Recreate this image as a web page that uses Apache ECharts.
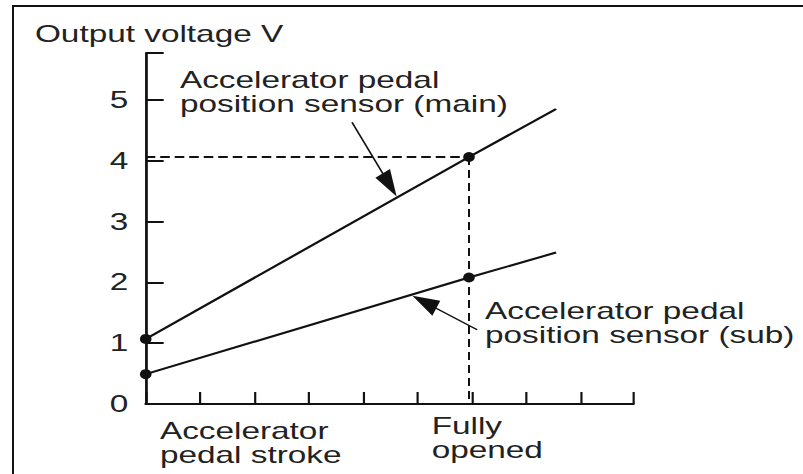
<!DOCTYPE html>
<html>
<head>
<meta charset="utf-8">
<script src="https://cdn.jsdelivr.net/npm/echarts@6/dist/echarts.min.js"></script>
<style>
  html, body { margin: 0; padding: 0; background: #fff; overflow: hidden; }
  /* thin frame along the top and left edge of the figure */
  #frame {
    position: absolute; left: 12px; top: 5px; width: 800px; height: 480px;
    border-top: 2px solid #111; border-left: 2px solid #111;
    box-sizing: border-box; pointer-events: none; z-index: 2;
  }
  /* the figure is set in a wide, horizontally extended type */
  #chart {
    position: absolute; left: 0; top: 0;
    width: 553.8px; height: 474px;
    transform: scaleX(1.45); transform-origin: 0 0;
  }
</style>
</head>
<body>
<div id="chart"></div>
<div id="frame"></div>
<script>
// Pedal stroke positions (arbitrary stroke units): rest, fully opened, end of travel
const strokeX = [0, 5.94, 7.54];
// Output voltage of the two sensors at those stroke positions (V)
const mainVolts = [1.07, 4.06, 4.85];
const subVolts = [0.49, 2.08, 2.49];
// Which of those points carry a dot
const dotted = [true, true, false];
// Voltage tick labels
const voltTicks = [0, 1, 2, 3, 4, 5];

// Leader arrows from the captions to the lines: tail x, tail y, tip x, tip y (stroke / V)
const mainArrow = [3.79, 4.63, 4.61, 3.41];
const subArrow = [6.09, 1.22, 4.90, 1.78];

const STRETCH = 1.45;   // horizontal stretch applied to the chart box
const INK = '#111';
const TEXT = '#222';
const FONT = "'Liberation Sans', Arial, Helvetica, sans-serif";
const FS = 23;

function pts(ys) {
  return strokeX.map((x, i) => ({
    value: [x, ys[i]],
    symbol: dotted[i] ? 'circle' : 'none'
  }));
}

// Leader line with a filled triangular head; the head is shaped in the
// stretched space so that it keeps its proportions on screen.
function renderArrow(params, api) {
  const p0 = api.coord([api.value(0), api.value(1)]);
  const p1 = api.coord([api.value(2), api.value(3)]);
  const ax = p0[0] * STRETCH, ay = p0[1];
  const bx = p1[0] * STRETCH, by = p1[1];
  const dx = bx - ax, dy = by - ay;
  const len = Math.hypot(dx, dy);
  const ux = dx / len, uy = dy / len;
  const L = 27, W = 8.5;
  const cx = bx - ux * L, cy = by - uy * L;
  const head = [
    [bx, by],
    [cx - uy * W, cy + ux * W],
    [cx + uy * W, cy - ux * W]
  ].map(p => [p[0] / STRETCH, p[1]]);
  return {
    type: 'group',
    children: [
      { type: 'line', shape: { x1: p0[0], y1: p0[1], x2: (cx + ux * 4) / STRETCH, y2: cy + uy * 4 },
        style: { stroke: INK, lineWidth: 1.2 } },
      { type: 'polygon', shape: { points: head }, style: { fill: INK } }
    ]
  };
}

function caption(text, x, y, lineHeight) {
  return {
    type: 'text', x: x, y: y,
    style: { text: text, font: FS + 'px ' + FONT, fill: TEXT, align: 'left', verticalAlign: 'top', lineHeight: lineHeight }
  };
}

const chart = echarts.init(document.getElementById('chart'), null, { renderer: 'svg' });

const option = {
  animation: false,
  backgroundColor: '#fff',
  grid: { left: 100.5, right: 117.2, top: 53, bottom: 70, containLabel: false },
  xAxis: {
    type: 'value',
    min: 0, max: 8.96, interval: 1,
    axisLine: { show: true, lineStyle: { color: INK, width: 2 } },
    axisTick: { show: true, inside: true, length: 12, lineStyle: { color: INK, width: 1.5 } },
    axisLabel: { show: false },
    splitLine: { show: false }
  },
  yAxis: {
    type: 'value',
    min: 0, max: 5.77, interval: 1,
    axisLine: { show: true, lineStyle: { color: INK, width: 1.9 } },
    axisTick: { show: true, inside: true, length: 12.4, lineStyle: { color: INK, width: 2 } },
    axisLabel: {
      show: true, margin: 12, color: TEXT, fontFamily: FONT, fontSize: FS,
      formatter: v => (voltTicks.indexOf(v) >= 0 ? String(v) : '')
    },
    splitLine: { show: false }
  },
  graphic: [
    caption('Output voltage V', 24.1, 22.4, 24),
    caption('Accelerator pedal\nposition sensor (main)', 124.1, 68, 24),
    caption('Accelerator pedal\nposition sensor (sub)', 334.5, 299.4, 24),
    caption('Accelerator\npedal stroke', 110.3, 418.9, 24),
    caption('Fully\nopened', 297.7, 413.6, 24)
  ],
  series: [
    {
      name: 'fully opened level',
      type: 'line',
      data: [[0, mainVolts[1]], [strokeX[1], mainVolts[1]]],
      symbol: 'none',
      lineStyle: { color: INK, width: 1.9, type: [6.6, 3.4] },
      z: 1, silent: true
    },
    {
      name: 'fully opened stroke',
      type: 'line',
      data: [[strokeX[1], mainVolts[1]], [strokeX[1], 0]],
      symbol: 'none',
      lineStyle: { color: INK, width: 1.4, type: [8, 5] },
      z: 1, silent: true
    },
    {
      name: 'Accelerator pedal position sensor (main)',
      type: 'line',
      data: pts(mainVolts),
      symbolSize: [8, 10],
      itemStyle: { color: INK },
      lineStyle: { color: INK, width: 2 },
      z: 3
    },
    {
      name: 'Accelerator pedal position sensor (sub)',
      type: 'line',
      data: pts(subVolts),
      symbolSize: [8, 10],
      itemStyle: { color: INK },
      lineStyle: { color: INK, width: 2 },
      z: 3
    },
    {
      name: 'leader arrows',
      type: 'custom',
      renderItem: renderArrow,
      encode: { x: [0, 2], y: [1, 3] },
      data: [mainArrow, subArrow],
      silent: true,
      z: 4
    }
  ]
};

chart.setOption(option);
</script>
</body>
</html>
